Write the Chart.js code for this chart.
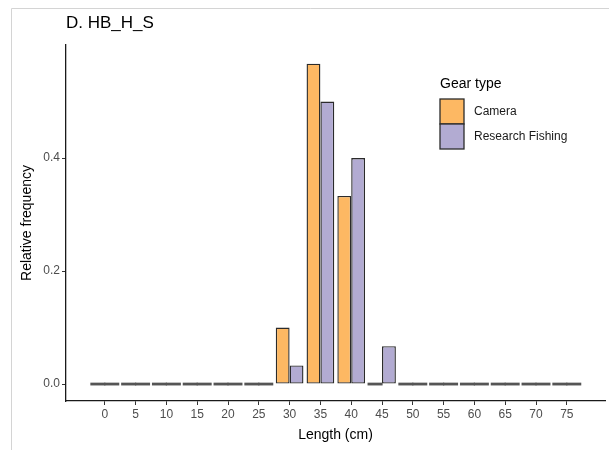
<!DOCTYPE html>
<html>
<head>
<meta charset="utf-8">
<title>HB_H_S length frequency</title>
<script src="https://cdn.jsdelivr.net/npm/chart.js@4.4.1/dist/chart.umd.min.js"></script>
<style>
  html, body { margin: 0; padding: 0; background: #fff; }
  #wrap { position: relative; width: 609px; height: 450px; }
</style>
</head>
<body>
<div id="wrap"><canvas id="lengthChart" width="609" height="450"></canvas></div>
<script>
const lengths = [0, 5, 10, 15, 20, 25, 30, 35, 40, 45, 50, 55, 60, 65, 70, 75];
const camera = [0, 0, 0, 0, 0, 0, 0.1, 0.567, 0.333, 0, 0, 0, 0, 0, 0, 0];
const researchFishing = [0, 0, 0, 0, 0, 0, 0.033, 0.5, 0.4, 0.067, 0, 0, 0, 0, 0, 0];
const yTicks = [0, 0.2, 0.4];
const gearTypes = ["Camera", "Research Fishing"];
const gearColors = ["#FDB863", "#B2ABD2"];
const panelTitle = "D. HB_H_S";

const FONT = "'Liberation Sans', Arial, sans-serif";

function toPoints(values) {
  return lengths.map((len, i) => ({ x: len, y: values[i] }));
}

// page frame, panel title and the "Gear type" key
const decorations = {
  id: "decorations",
  beforeDraw(chart) {
    const ctx = chart.ctx;
    ctx.save();
    ctx.fillStyle = "#fff";
    ctx.fillRect(0, 0, chart.width, chart.height);
    ctx.strokeStyle = "#d4d4d4";
    ctx.lineWidth = 1;
    ctx.beginPath();
    ctx.moveTo(11.5, chart.height);
    ctx.lineTo(11.5, 8.5);
    ctx.lineTo(chart.width, 8.5);
    ctx.stroke();
    ctx.restore();
  },
  afterDraw(chart) {
    const ctx = chart.ctx;
    ctx.save();
    ctx.fillStyle = "#000";
    ctx.textBaseline = "middle";
    ctx.font = "17px " + FONT;
    ctx.fillText(panelTitle, 66, 23);

    ctx.font = "14px " + FONT;
    ctx.fillText("Gear type", 440, 84);

    ctx.font = "12px " + FONT;
    chart.data.datasets.forEach((ds, i) => {
      const top = 99 + i * 25;
      ctx.fillStyle = ds.backgroundColor;
      ctx.fillRect(440, top, 24, 25);
      ctx.strokeStyle = "#2b2b2b";
      ctx.lineWidth = 1.3;
      ctx.strokeRect(440, top, 24, 25);
      ctx.fillStyle = "#1a1a1a";
      ctx.fillText(ds.label, 474, top + 13);
    });
    ctx.restore();
  }
};

// empty bins still show their outline as a flat bar on the baseline
const zeroBars = {
  id: "zeroBars",
  afterDatasetsDraw(chart) {
    const ctx = chart.ctx;
    ctx.save();
    ctx.fillStyle = "#555";
    chart.data.datasets.forEach((ds, di) => {
      const meta = chart.getDatasetMeta(di);
      meta.data.forEach((bar, i) => {
        if (ds.data[i].y !== 0) return;
        const p = bar.getProps(["x", "y", "width"], true);
        ctx.fillRect(p.x - p.width / 2 - 0.6, p.y - 1.4, p.width + 1.2, 2.8);
      });
    });
    ctx.restore();
  }
};

new Chart(document.getElementById("lengthChart"), {
  type: "bar",
  data: {
    datasets: gearTypes.map((name, i) => ({
      label: name,
      data: toPoints(i === 0 ? camera : researchFishing),
      backgroundColor: gearColors[i],
      borderColor: "#2b2b2b",
      borderWidth: 1.4,
      borderSkipped: false,
      categoryPercentage: 0.9,
      barPercentage: 1.0
    }))
  },
  options: {
    responsive: false,
    animation: false,
    layout: { padding: { top: 45, right: 4, left: 0, bottom: 0 } },
    plugins: {
      legend: { display: false },
      tooltip: { enabled: false }
    },
    scales: {
      x: {
        type: "linear",
        offset: false,
        min: -6.3,
        max: 81.2,
        afterBuildTicks(scale) {
          scale.ticks = lengths.map(v => ({ value: v }));
        },
        afterFit(scale) { scale.height = 49; },
        grid: {
          offset: false,
          drawOnChartArea: false,
          drawTicks: true,
          tickLength: 4,
          color: "#333",
          lineWidth: 1
        },
        border: { display: true, color: "#1a1a1a", width: 1.3 },
        ticks: {
          color: "#4d4d4d",
          font: { family: FONT, size: 12 },
          padding: 2,
          maxRotation: 0,
          autoSkip: false,
          callback: v => String(v)
        },
        title: {
          display: true,
          text: "Length (cm)",
          color: "#000",
          font: { family: FONT, size: 14 },
          padding: { top: 0, bottom: 6 }
        }
      },
      y: {
        min: -0.03,
        max: 0.6,
        afterBuildTicks(scale) {
          scale.ticks = yTicks.map(v => ({ value: v }));
        },
        afterFit(scale) { scale.width = 66; },
        grid: {
          drawOnChartArea: false,
          drawTicks: true,
          tickLength: 4,
          color: "#333",
          lineWidth: 1
        },
        border: { display: true, color: "#1a1a1a", width: 1.3 },
        ticks: {
          color: "#4d4d4d",
          font: { family: FONT, size: 12 },
          padding: 2,
          callback: v => v.toFixed(1)
        },
        title: {
          display: true,
          text: "Relative frequency",
          color: "#000",
          font: { family: FONT, size: 14 },
          padding: { top: 19, bottom: 0 }
        }
      }
    }
  },
  plugins: [decorations, zeroBars]
});
</script>
</body>
</html>
